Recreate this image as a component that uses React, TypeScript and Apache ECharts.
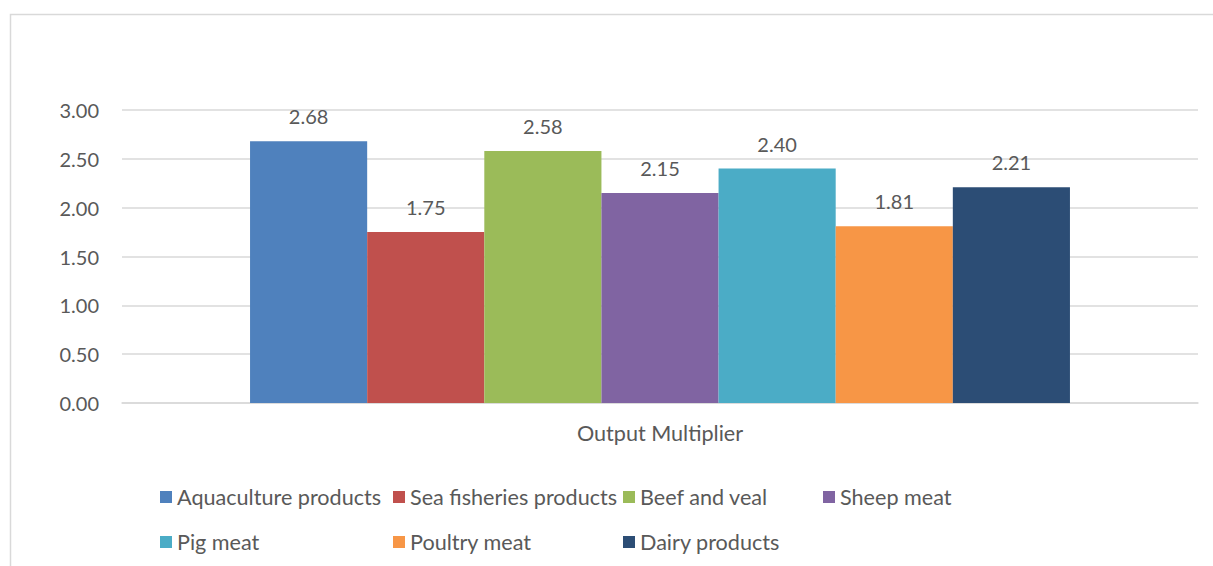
import React, { useEffect, useRef } from "react";
import * as echarts from "echarts";

const categories = ["Output Multiplier"];
const seriesNames = [
  "Aquaculture products",
  "Sea fisheries products",
  "Beef and veal",
  "Sheep meat",
  "Pig meat",
  "Poultry meat",
  "Dairy products",
];
const seriesValues = [2.68, 1.75, 2.58, 2.15, 2.4, 1.81, 2.21];
const seriesColors = ["#4F81BD", "#C0504D", "#9BBB59", "#8064A2", "#4BACC6", "#F79646", "#2C4D75"];
const yTicks = [0, 0.5, 1, 1.5, 2, 2.5, 3];

// legend layout slots (left, top) per item
const legendLeft = [160, 393, 623, 823, 160, 393, 623];
const legendTop = [486, 486, 486, 486, 531, 531, 531];

const FONT = "Lato";
const TEXT = "#595959";

export default function App() {
  const ref = useRef<HTMLDivElement>(null);
  useEffect(() => {
    if (!ref.current) return;
    const chart = echarts.init(ref.current, null, { renderer: "svg" });
    chart.setOption({
      animation: false,
      backgroundColor: "#ffffff",
      textStyle: { fontFamily: FONT },
      graphic: [
        {
          type: "rect",
          shape: { x: 10.5, y: 14.5, width: 1300, height: 700 },
          style: { fill: "none", stroke: "#d9d9d9", lineWidth: 1.5 },
          silent: true,
          z: -10,
        },
      ],
      legend: seriesNames.map((n, i) => ({
        data: [n],
        left: legendLeft[i],
        top: legendTop[i],
        padding: 0,
        itemWidth: 12,
        itemHeight: 12,
        itemGap: 6,
        icon: "rect",
        selectedMode: false,
        textStyle: { fontFamily: FONT, fontSize: 21.6, color: TEXT, lineHeight: 21, padding: [0, 0, 0, 0] },
      })),
      grid: { left: 122, right: 15, top: 110, bottom: 163, containLabel: false },
      xAxis: {
        type: "category",
        data: categories,
        axisLine: { show: true, lineStyle: { color: "#d9d9d9", width: 1.5 } },
        axisTick: { show: false },
        axisLabel: { margin: 19, fontFamily: FONT, fontSize: 21.6, color: TEXT },
      },
      yAxis: {
        type: "value",
        min: yTicks[0],
        max: yTicks[yTicks.length - 1],
        interval: 0.5,
        axisLine: { show: false },
        axisTick: { show: false },
        splitLine: { lineStyle: { color: "#d9d9d9", width: 1.5 } },
        axisLabel: {
          margin: 23,
          fontFamily: FONT,
          fontSize: 20,
          color: TEXT,
          formatter: (v: number) => v.toFixed(2),
        },
      },
      series: seriesNames.map((n, i) => ({
        name: n,
        type: "bar",
        data: [seriesValues[i]],
        barGap: "0%",
        barCategoryGap: "23.8%",
        itemStyle: { color: seriesColors[i] },
        label: {
          show: true,
          position: "top",
          distance: 15,
          fontFamily: FONT,
          fontSize: 20,
          color: TEXT,
          formatter: (p: any) => Number(p.value).toFixed(2),
        },
      })),
    });
    return () => chart.dispose();
  }, []);
  return (
    <div
      ref={ref}
      style={{ position: "fixed", left: 0, top: 0, width: 1213, height: 566 }}
    />
  );
}
